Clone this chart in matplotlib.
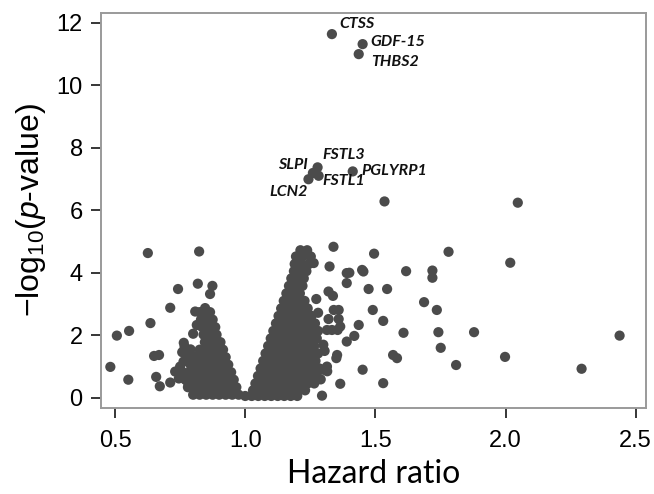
import matplotlib
matplotlib.use("Agg")
import matplotlib.pyplot as plt

# --- labelled proteins ---
gene_names = ["CTSS", "GDF-15", "THBS2", "FSTL3", "SLPI", "FSTL1", "LCN2", "PGLYRP1"]
gene_hr = [1.333, 1.451, 1.436, 1.278, 1.260, 1.282, 1.243, 1.413]
gene_logp = [11.63, 11.31, 10.99, 7.37, 7.19, 7.10, 6.99, 7.24]
label_hr = [1.360, 1.481, 1.485, 1.297, 1.239, 1.297, 1.239, 1.447]
label_logp = [11.96, 11.37, 10.74, 7.75, 7.43, 6.94, 6.58, 7.24]
label_align = ["left", "left", "left", "left", "right", "left", "right", "left"]

# --- scattered points away from the dense V ---
outer_hr = [0.626, 0.823, 0.818, 0.874, 0.865, 0.742, 0.712, 0.636, 0.507, 0.554,
            0.482, 0.551, 0.650, 0.669, 0.658, 0.672, 0.712, 0.767, 0.758, 0.731,
            0.750, 0.782, 0.840, 0.763, 0.808, 0.808, 0.846, 0.808, 0.814, 0.764,
            1.339, 1.495, 1.781, 2.018, 1.324, 1.390, 1.400, 1.449, 1.454, 1.618,
            1.719, 1.719, 1.390, 1.474, 1.545, 1.273, 1.320, 1.337, 1.687, 1.490,
            1.736, 1.340, 1.359, 1.320, 1.359, 1.530, 1.365, 1.436, 1.314, 1.333,
            1.355, 1.608, 1.742, 1.879, 2.438, 1.419, 1.390, 1.353, 1.350, 1.568,
            1.583, 1.751, 1.998, 1.810, 1.451, 2.292, 1.530, 1.365, 1.295, 1.300,
            1.314, 1.290, 1.315, 1.535, 2.047, 1.263, 1.280, 1.300, 1.305, 0.790,
            0.775, 0.745, 0.800]
outer_logp = [4.63, 4.68, 3.65, 3.58, 3.32, 3.48, 2.88, 2.39, 1.99, 2.14,
              0.99, 0.58, 1.34, 1.37, 0.67, 0.37, 0.49, 1.64, 1.46, 0.84,
              1.00, 0.42, 0.36, 1.16, 1.32, 0.90, 2.87, 2.76, 2.33, 1.76,
              4.83, 4.61, 4.67, 4.32, 4.20, 3.99, 4.00, 4.09, 4.04, 4.05,
              4.07, 3.84, 3.67, 3.48, 3.48, 3.16, 3.40, 3.26, 3.06, 2.81,
              2.81, 2.81, 2.81, 2.52, 2.52, 2.46, 2.28, 2.33, 2.17, 2.17,
              2.17, 2.08, 2.10, 2.10, 1.99, 1.98, 1.80, 1.37, 1.27, 1.37,
              1.27, 1.60, 1.31, 1.05, 0.90, 0.93, 0.47, 0.45, 0.07, 0.90,
              1.00, 0.59, 0.85, 6.28, 6.24, 4.31, 2.72, 1.70, 1.50, 1.55,
              1.20, 0.62, 2.05]

# --- dense left arm of the V, row by row ---
left_rows_logp = [2.74, 2.50, 2.26, 2.02, 1.78, 1.54, 1.30, 1.06, 0.82, 0.58, 0.34, 0.10]
left_rows_hr = [
    [0.825, 0.850, 0.865],
    [0.830, 0.855, 0.875],
    [0.835, 0.860, 0.885],
    [0.840, 0.865, 0.890],
    [0.845, 0.870, 0.895, 0.905],
    [0.825, 0.850, 0.875, 0.900, 0.915],
    [0.780, 0.805, 0.830, 0.855, 0.880, 0.905, 0.925],
    [0.790, 0.815, 0.840, 0.865, 0.890, 0.915, 0.935],
    [0.760, 0.785, 0.810, 0.835, 0.860, 0.885, 0.910, 0.935, 0.946],
    [0.770, 0.795, 0.820, 0.845, 0.870, 0.895, 0.920, 0.945, 0.956],
    [0.780, 0.805, 0.830, 0.855, 0.880, 0.905, 0.930, 0.955, 0.966],
    [0.800, 0.825, 0.850, 0.875, 0.900, 0.925, 0.950, 0.975],
]

# --- dense right arm of the V, row by row ---
right_rows_logp = [4.72, 4.52, 4.28, 4.05, 3.82, 3.58, 3.34, 3.10, 2.86, 2.62, 2.38,
                   2.14, 1.90, 1.66, 1.42, 1.18, 0.94, 0.70, 0.46, 0.24, 0.06]
right_rows_hr = [
    [1.212, 1.238],
    [1.195, 1.222, 1.252],
    [1.190, 1.215, 1.245],
    [1.187, 1.210, 1.235],
    [1.177, 1.200, 1.225],
    [1.168, 1.195, 1.220],
    [1.158, 1.185, 1.210],
    [1.148, 1.175, 1.200, 1.228],
    [1.138, 1.165, 1.190, 1.215, 1.240],
    [1.128, 1.155, 1.180, 1.205, 1.230, 1.255],
    [1.118, 1.145, 1.170, 1.195, 1.220, 1.245, 1.268],
    [1.108, 1.135, 1.160, 1.185, 1.210, 1.235, 1.260, 1.280],
    [1.098, 1.125, 1.150, 1.175, 1.200, 1.225, 1.250, 1.275],
    [1.088, 1.115, 1.140, 1.165, 1.190, 1.215, 1.240, 1.265],
    [1.078, 1.105, 1.130, 1.155, 1.180, 1.205, 1.230, 1.255, 1.280],
    [1.069, 1.095, 1.120, 1.145, 1.170, 1.195, 1.220, 1.245, 1.270],
    [1.059, 1.085, 1.110, 1.135, 1.160, 1.185, 1.210, 1.235, 1.260, 1.285],
    [1.049, 1.075, 1.100, 1.125, 1.150, 1.175, 1.200, 1.225, 1.250, 1.275],
    [1.039, 1.065, 1.090, 1.115, 1.140, 1.165, 1.190, 1.215, 1.240, 1.265],
    [1.030, 1.055, 1.080, 1.105, 1.130, 1.155, 1.180, 1.205, 1.230],
    [1.000, 1.025, 1.050, 1.075, 1.100, 1.125, 1.150, 1.175, 1.200],
]

x_ticks = [0.5, 1.0, 1.5, 2.0, 2.5]
y_ticks = [0, 2, 4, 6, 8, 10, 12]


def flatten(rows_y, rows_x):
    xs, ys = [], []
    for y, row in zip(rows_y, rows_x):
        xs += row
        ys += [y] * len(row)
    return xs, ys


def main():
    plt.rcParams["font.family"] = ["Liberation Sans", "DejaVu Sans"]
    plt.rcParams["mathtext.fontset"] = "custom"
    plt.rcParams["mathtext.rm"] = "Liberation Sans"
    plt.rcParams["mathtext.it"] = "Liberation Sans:italic"

    left_hr, left_logp = flatten(left_rows_logp, left_rows_hr)
    right_hr, right_logp = flatten(right_rows_logp, right_rows_hr)

    all_hr = left_hr + right_hr + outer_hr + gene_hr
    all_logp = left_logp + right_logp + outer_logp + gene_logp

    fig = plt.figure(figsize=(6.54, 4.94), dpi=100)
    ax = fig.add_axes([0.154, 0.175, 0.834, 0.799])

    dot = "#4b4b4b"
    ax.scatter(all_hr, all_logp, s=54, color=dot, edgecolors="none", zorder=3)

    for name, x, y, ha in zip(gene_names, label_hr, label_logp, label_align):
        ax.text(x, y, name, ha=ha, va="center", fontsize=11.5, fontweight="bold",
                fontstyle="italic", family=["Lato", "DejaVu Sans"], color="#111111")

    ax.set_xlim(0.445, 2.54)
    ax.set_ylim(-0.31, 12.31)
    ax.set_xticks(x_ticks)
    ax.set_xticklabels([f"{v:.1f}" for v in x_ticks])
    ax.set_yticks(y_ticks)

    for sp in ax.spines.values():
        sp.set_color("#9a9a9a")
        sp.set_linewidth(1.4)
    ax.tick_params(direction="out", length=7, width=1.1, color="black",
                   labelsize=17)
    ax.tick_params(axis="x", pad=9)
    ax.tick_params(axis="y", pad=6)

    ax.set_xlabel("Hazard ratio", fontsize=23, family=["Lato", "DejaVu Sans"], labelpad=5)
    ax.set_ylabel("\u2212log$_{10}$($p$-value)", fontsize=23, labelpad=6)

    fig.savefig("out.png", dpi=100)


if __name__ == "__main__":
    main()
